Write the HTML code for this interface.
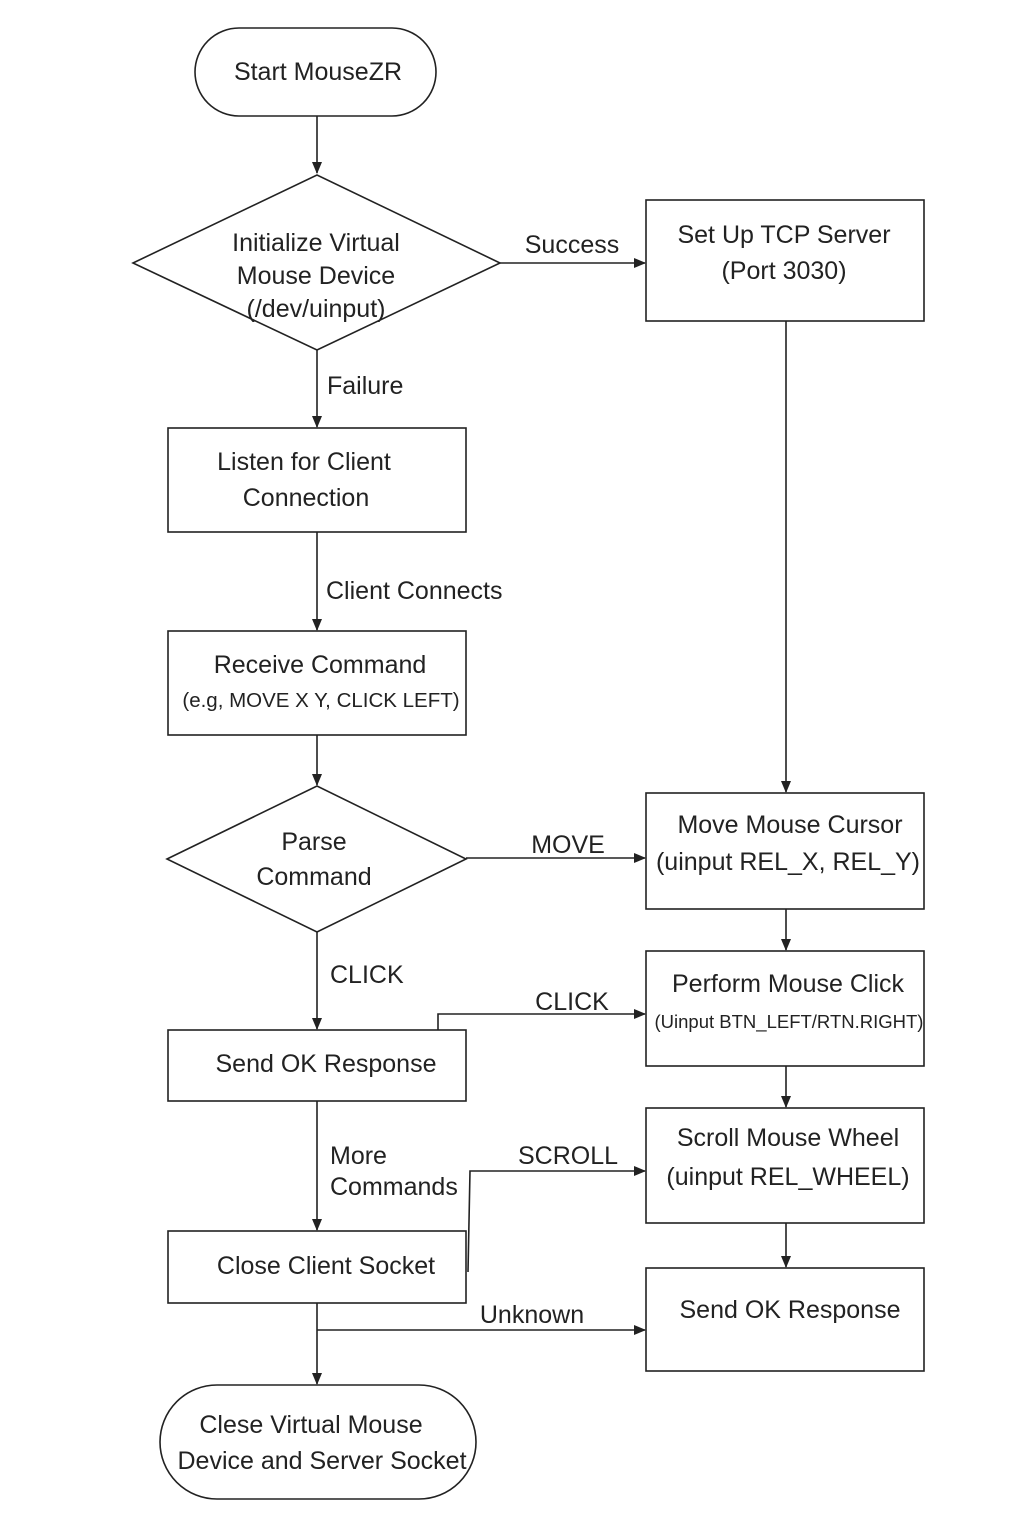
<!DOCTYPE html>
<html><head><meta charset="utf-8"><style>
html,body{margin:0;padding:0;background:#fff;}
svg{display:block;}
text{font-family:"Liberation Sans","DejaVu Sans",sans-serif;fill:#222;font-size:25px;}
</style></head><body>
<svg width="1024" height="1536" viewBox="0 0 1024 1536" xmlns="http://www.w3.org/2000/svg">
<defs>
<marker id="a" markerWidth="12" markerHeight="10" refX="11" refY="5" orient="auto" markerUnits="userSpaceOnUse">
<path d="M0,0 L12,5 L0,10 z" fill="#222"/></marker>
</defs>
<g stroke="#222" stroke-width="1.6" fill="none">
<rect x="195" y="28" width="241" height="88" rx="44"/>
<polygon points="133,263 317,175 500,263 317,350"/>
<rect x="646" y="200" width="278" height="121"/>
<rect x="168" y="428" width="298" height="104"/>
<rect x="168" y="631" width="298" height="104"/>
<polygon points="167,859 317,786 466,859 317,932"/>
<rect x="646" y="793" width="278" height="116"/>
<rect x="646" y="951" width="278" height="115"/>
<rect x="646" y="1108" width="278" height="115"/>
<rect x="646" y="1268" width="278" height="103"/>
<rect x="168" y="1030" width="298" height="71"/>
<rect x="168" y="1231" width="298" height="72"/>
<rect x="160" y="1385" width="316" height="114" rx="57"/>
</g>
<g stroke="#222" stroke-width="1.6" fill="none" marker-end="url(#a)">
<line x1="317" y1="116" x2="317" y2="173"/>
<line x1="500" y1="263" x2="645" y2="263"/>
<line x1="786" y1="321" x2="786" y2="792"/>
<line x1="317" y1="350" x2="317" y2="427"/>
<line x1="317" y1="532" x2="317" y2="630"/>
<line x1="317" y1="735" x2="317" y2="785"/>
<line x1="466" y1="858" x2="645" y2="858"/>
<line x1="786" y1="909" x2="786" y2="950"/>
<line x1="786" y1="1066" x2="786" y2="1107"/>
<line x1="786" y1="1223" x2="786" y2="1267"/>
<line x1="317" y1="932" x2="317" y2="1029"/>
<polyline points="438,1030 438,1014 645,1014"/>
<line x1="317" y1="1101" x2="317" y2="1230"/>
<polyline points="468,1272 470,1171 645,1171"/>
<line x1="317" y1="1303" x2="317" y2="1384"/>
<line x1="317" y1="1330" x2="645" y2="1330"/>
</g>
<g text-anchor="middle">
<text x="318" y="80">Start MouseZR</text>
<text x="316" y="251">Initialize Virtual</text>
<text x="316" y="284">Mouse Device</text>
<text x="316" y="317">(/dev/uinput)</text>
<text x="572" y="253">Success</text>
<text x="784" y="243">Set Up TCP Server</text>
<text x="784" y="279">(Port 3030)</text>
<text x="304" y="470">Listen for Client</text>
<text x="306" y="506">Connection</text>
<text x="320" y="673">Receive Command</text>
<text x="321" y="707" style="font-size:20.5px">(e.g, MOVE X Y, CLICK LEFT)</text>
<text x="314" y="850">Parse</text>
<text x="314" y="885">Command</text>
<text x="568" y="853">MOVE</text>
<text x="790" y="833">Move Mouse Cursor</text>
<text x="788" y="870">(uinput REL_X, REL_Y)</text>
<text x="788" y="992">Perform Mouse Click</text>
<text x="789" y="1028" style="font-size:18.5px">(Uinput BTN_LEFT/RTN.RIGHT)</text>
<text x="572" y="1010">CLICK</text>
<text x="788" y="1146">Scroll Mouse Wheel</text>
<text x="788" y="1185">(uinput REL_WHEEL)</text>
<text x="568" y="1164">SCROLL</text>
<text x="790" y="1318">Send OK Response</text>
<text x="532" y="1323">Unknown</text>
<text x="326" y="1072">Send OK Response</text>
<text x="326" y="1274">Close Client Socket</text>
<text x="311" y="1433">Clese Virtual Mouse</text>
<text x="322" y="1469">Device and Server Socket</text>
</g>
<g text-anchor="start">
<text x="327" y="394">Failure</text>
<text x="326" y="599">Client Connects</text>
<text x="330" y="983">CLICK</text>
<text x="330" y="1164">More</text>
<text x="330" y="1195">Commands</text>
</g>
</svg>
</body></html>
